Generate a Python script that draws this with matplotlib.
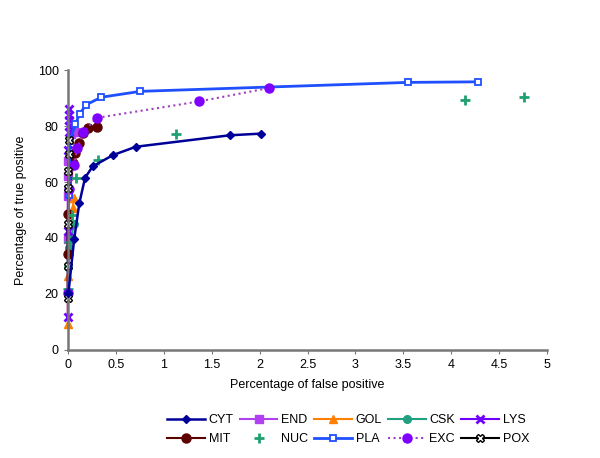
import matplotlib
matplotlib.use("Agg")
import matplotlib.pyplot as plt

plt.rcParams['font.family'] = ['Liberation Sans', 'DejaVu Sans']

# false positive (%) / true positive (%) per class
cyt_x = [0.007, 0.066, 0.12, 0.18, 0.26, 0.47, 0.71, 1.69, 2.02]
cyt_y = [20.5, 39.5, 52.4, 61.5, 65.6, 69.6, 72.6, 76.7, 77.3]

end_x = [0.0, 0.0, 0.005, 0.005, 0.03, 0.07]
end_y = [39.5, 55.0, 62.0, 67.5, 77.0, 78.0]

gol_x = [0.0, 0.0, 0.016, 0.05, 0.066]
gol_y = [9.3, 26.5, 37.8, 50.8, 54.4]

csk_x = [0.0, 0.015, 0.04, 0.06]
csk_y = [29.8, 36.5, 40.0, 45.0]

lys_x = [0.0, 0.0, 0.005, 0.01, 0.01, 0.01, 0.01, 0.01]
lys_y = [11.6, 42.5, 71.6, 78.0, 80.0, 82.0, 84.0, 86.0]

mit_x = [0.0, 0.0, 0.05, 0.08, 0.115, 0.16, 0.21, 0.30]
mit_y = [34.4, 48.5, 66.9, 70.4, 74.0, 77.6, 79.3, 79.7]

nuc_x = [0.007, 0.016, 0.04, 0.09, 0.31, 1.13, 4.14, 4.76]
nuc_y = [21.7, 38.4, 48.2, 61.5, 67.7, 77.2, 89.3, 90.5]

pla_x = [0.015, 0.02, 0.08, 0.125, 0.19, 0.35, 0.757, 3.55, 4.28]
pla_y = [55.5, 74.5, 80.8, 84.4, 87.6, 90.3, 92.4, 95.6, 95.8]

exc_x = [0.0, 0.016, 0.06, 0.10, 0.16, 0.30, 1.37, 2.10]
exc_y = [20.5, 57.4, 66.0, 72.0, 77.8, 82.9, 88.8, 93.6]

pox_x = [0.0, 0.0, 0.0, 0.005, 0.005, 0.01, 0.01]
pox_y = [18.5, 30.0, 45.0, 58.0, 64.0, 70.0, 75.0]

fig = plt.figure(figsize=(6, 4.58), dpi=100)
ax = fig.add_axes([0.113, 0.236, 0.799, 0.611])

kw = dict(clip_on=False)
ax.plot(cyt_x, cyt_y, color='#000099', marker='D', ms=4.5, lw=1.8, label='CYT', zorder=5, **kw)
ax.plot(end_x, end_y, color='#b040f0', marker='s', ms=6, lw=1.5, label='END', **kw)
ax.plot(gol_x, gol_y, color='#ff8000', marker='^', ms=6, lw=1.5, label='GOL', **kw)
ax.plot(csk_x, csk_y, color='#20a080', marker='o', ms=5.5, lw=1.5, label='CSK', **kw)
ax.plot(lys_x, lys_y, color='#7000ff', marker='x', ms=5.5, mew=2, lw=1.5, label='LYS', **kw)
ax.plot(mit_x, mit_y, color='#5c0000', marker='o', ms=6.5, lw=1.5, label='MIT', **kw)
ax.plot(nuc_x, nuc_y, color='#20a070', marker='+', ms=6.5, mew=2, lw=0, label='NUC', **kw)
ax.plot(pla_x, pla_y, color='#1f4fff', marker='s', ms=5, mfc='white', mew=1.3, lw=2,
        label='PLA', **kw)
ax.plot(exc_x, exc_y, color='#a040c0', ls=':', lw=1.5, marker='o', ms=6.5,
        mfc='#7f00ff', mec='#7f00ff', label='EXC', **kw)
ax.plot(pox_x, pox_y, color='black', marker='X', ms=5.5, mfc='white', mec='black', lw=1.5,
        label='POX', **kw)

ax.set_xlim(0, 5)
ax.set_ylim(0, 100)
ax.set_xticks([0, 0.5, 1, 1.5, 2, 2.5, 3, 3.5, 4, 4.5, 5])
ax.set_xticklabels(['0', '0.5', '1', '1.5', '2', '2.5', '3', '3.5', '4', '4.5', '5'])
ax.set_yticks(range(0, 101, 20))

for s in ['top', 'right']:
    ax.spines[s].set_visible(False)
for s in ['left', 'bottom']:
    ax.spines[s].set_color('#777777')
    ax.spines[s].set_linewidth(1.8)
ax.tick_params(colors='#777777', labelcolor='black', labelsize=9, length=3)

ax.set_xlabel('Percentage of false positive', fontsize=9, labelpad=6)
ax.set_ylabel('Percentage of true positive', fontsize=9, labelpad=8)

# legend filled row by row, five per row
h, l = ax.get_legend_handles_labels()
order = [0, 5, 1, 6, 2, 7, 3, 8, 4, 9]
ax.legend([h[i] for i in order], [l[i] for i in order], loc='upper center',
          bbox_to_anchor=(0.585, -0.19), ncol=5, frameon=False,
          fontsize=9, handlelength=3.0, columnspacing=0.5, handletextpad=0.3,
          labelspacing=0.55)

fig.savefig('out.png', dpi=100)
